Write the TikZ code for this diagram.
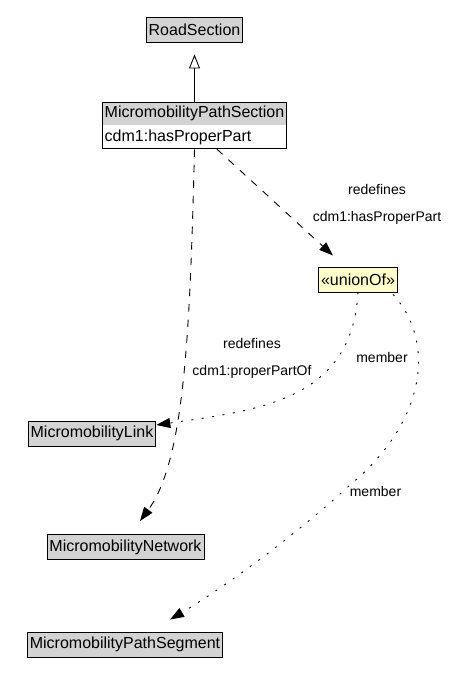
\documentclass[tikz,border=0pt]{standalone}
\usepackage{fontspec}
\setmainfont{Liberation Sans}
\usetikzlibrary{arrows.meta,shapes.multipart}
\definecolor{clsgray}{HTML}{D3D3D3}
\definecolor{unionyellow}{HTML}{FFFFCC}
\tikzset{>={Triangle[length=14pt,width=10pt]}}
\tikzset{
  redef/.style={dash pattern=on 7.5pt off 8pt},
  memb/.style={dash pattern=on 2pt off 8.5pt},
  lbl/.style={font=\fontsize{14}{17}\selectfont}
}

\begin{document}
\begin{tikzpicture}[x=1pt,y=-1pt,line width=0.9pt]
\useasboundingbox (0,0) rectangle (455,695);
\begin{scope}[every node/.style={draw,fill=clsgray,inner xsep=2.5pt,inner ysep=0pt,minimum height=25pt,font=\fontsize{16}{19}\selectfont}]
\node (RS) at (194.5,29.5) {RoadSection};
\node (MPS) at (194.5,125.5) [fill=none,rectangle split,rectangle split parts=2,
  rectangle split draw splits=false,rectangle split part fill={clsgray,white},
  rectangle split part align={center,left},inner ysep=3.75pt,minimum height=0pt]
  {MicromobilityPathSection\nodepart{two}cdm1:hasProperPart};
\node (UN) at (358,279.5) [fill=unionyellow] {«unionOf»};
\node (ML) at (92,433.5) {MicromobilityLink};
\node (MN) at (125.5,547) {MicromobilityNetwork};
\node (MSEG) at (125,644.5) {MicromobilityPathSegment};
\end{scope}

% generalization
\draw [-{Triangle[open,length=14pt,width=11pt]},shorten >=12pt] (MPS) -- (RS);

% redefines
\draw [->,redef] ([xshift=22.5pt]MPS.south) -- ([xshift=-25pt,yshift=11pt]UN.north);
\draw [->,redef] (MPS.south) .. controls (190,330) and (185,460) .. ([xshift=14.5pt,yshift=13pt]MN.north);

% members
\draw [->,memb] (UN.south) .. controls (352,400) and (260,410) .. ([yshift=8.5pt]ML.east);
\draw [->,memb] ([xshift=35pt,yshift=-2pt]UN.south) .. controls (435,340) and (428,420) .. (350,485)
  .. controls (290,540) and (220,590) .. ([xshift=45pt,yshift=12pt]MSEG.north);

\node [lbl] (redefA) at (377,189) {redefines};
\node [lbl] (hasPP) at (377,218) {cdm1:hasProperPart};
\node [lbl] (redefB) at (252,343) {redefines};
\node [lbl] (partOf) at (252,372) {cdm1:properPartOf};
\node [lbl] (membA) at (382,357) {member};
\node [lbl] (membB) at (375.5,491) {member};
\end{tikzpicture}
\end{document}
